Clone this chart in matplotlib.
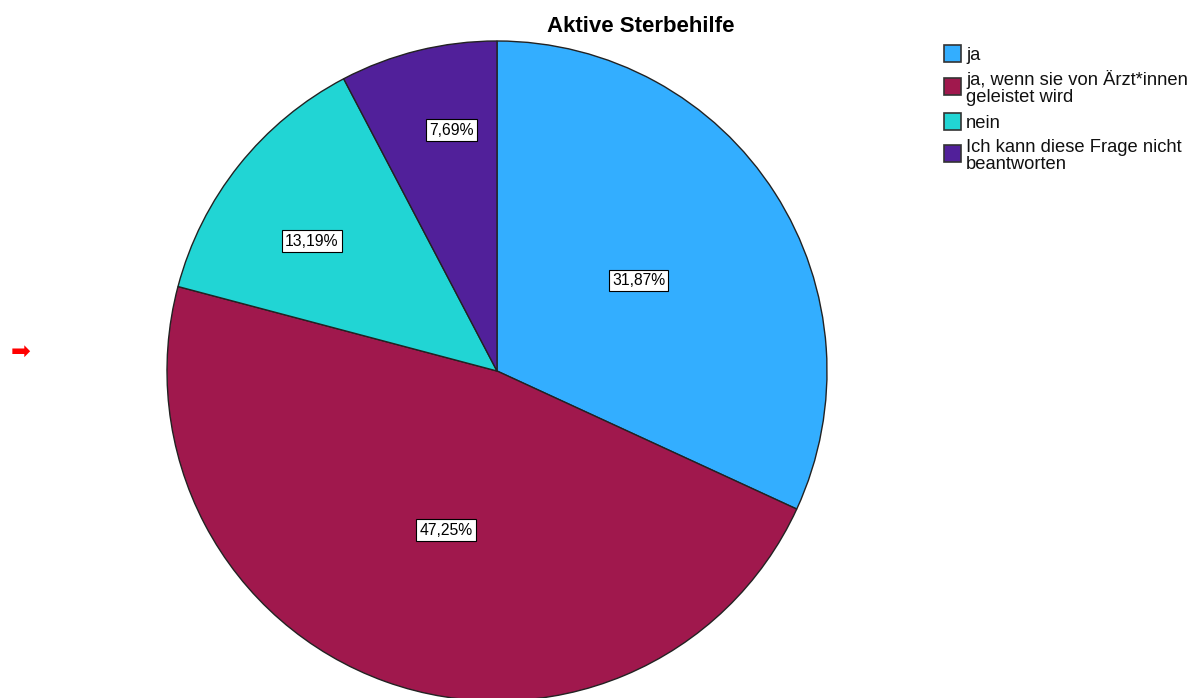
import numpy as np
import matplotlib
matplotlib.use("Agg")
import matplotlib.pyplot as plt
from matplotlib.patches import Rectangle

plt.rcParams['font.family'] = ['Liberation Sans', 'DejaVu Sans']

title = "Aktive Sterbehilfe"
categories = ["ja", "ja, wenn sie von Ärzt*innen\ngeleistet wird", "nein",
              "Ich kann diese Frage nicht\nbeantworten"]
values = [31.87, 47.25, 13.19, 7.69]
pct_labels = ["31,87%", "47,25%", "13,19%", "7,69%"]
colors = ["#33aeff", "#a0184d", "#21d5d4", "#51209a"]

W, H = 1197, 698
fig = plt.figure(figsize=(W / 100, H / 100), dpi=100)

cx, cy, r = 497, 371, 330
ax = fig.add_axes([(cx - r) / W, (H - cy - r) / H, 2 * r / W, 2 * r / H])
wedges, _ = ax.pie(values, colors=colors, startangle=90, counterclock=False,
                   radius=1.0, wedgeprops=dict(edgecolor="#222222", linewidth=1.0))
ax.set_xlim(-1, 1)
ax.set_ylim(-1, 1)
ax.set_aspect("equal")
ax.axis("off")

# label placement: radial distance and angular offset (deg) per slice
dists = [0.51, 0.506, 0.685, 0.743]
ang_off = [0.0, 2.0, 3.5, -3.2]
for w, lab, d, da in zip(wedges, pct_labels, dists, ang_off):
    ang = np.deg2rad((w.theta1 + w.theta2) / 2 + da)
    ax.text(d * np.cos(ang), d * np.sin(ang), lab, ha="center", va="center",
            fontsize=11.3, color="black",
            bbox=dict(boxstyle="square,pad=0.2", fc="white", ec="black", lw=0.8))

fig.text(641 / W, 1 - 27 / H, title, ha="center", va="center",
         fontsize=16, fontweight="bold")

# legend drawn manually
box_tops = [45, 78, 113, 145]
baselines = [60, 85, 128, 152]
line_gap = 17
for top, base, lab, c in zip(box_tops, baselines, categories, colors):
    fig.patches.append(Rectangle((944 / W, 1 - (top + 17) / H), 17 / W, 17 / H,
                                 transform=fig.transFigure, fc=c, ec="#333333", lw=1.2))
    for i, line in enumerate(lab.split("\n")):
        fig.text(966 / W, 1 - (base + i * line_gap) / H, line, ha="left",
                 va="baseline", fontsize=13.2, color="#111111")

fig.text(21 / W, 1 - 352 / H, "\u27a1", color="red", ha="center", va="center",
         fontsize=17, family=["DejaVu Sans"])

fig.savefig("out.png", dpi=100, facecolor="white")
